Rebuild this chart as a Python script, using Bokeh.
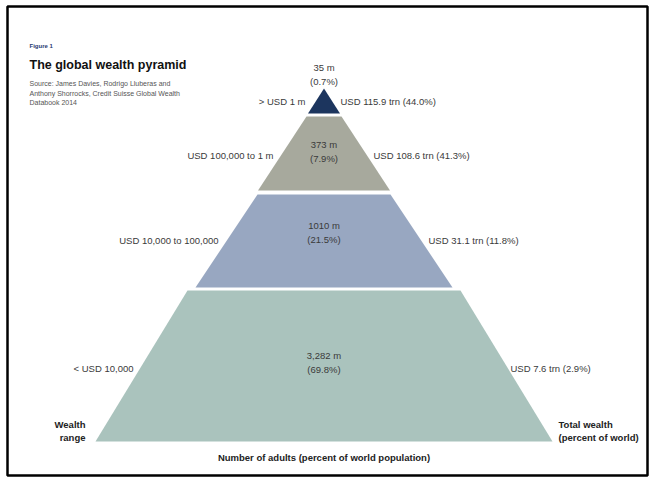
from bokeh.plotting import figure
from bokeh.models import Range1d
from bokeh.embed import file_html
from bokeh.resources import INLINE
from bokeh.core.properties import value

# ---------------- data ----------------
wealth_ranges = ["> USD 1 m", "USD 100,000 to 1 m", "USD 10,000 to 100,000", "< USD 10,000"]
adults = ["35 m", "373 m", "1010 m", "3,282 m"]
adults_pct = ["0.7%", "7.9%", "21.5%", "69.8%"]
total_wealth = ["USD 115.9 trn", "USD 108.6 trn", "USD 31.1 trn", "USD 7.6 trn"]
wealth_pct = ["44.0%", "41.3%", "11.8%", "2.9%"]
tier_colors = ["#1c355e", "#a7a99d", "#98a7c1", "#aac3bd"]

fig_label = "Figure 1"
title = "The global wealth pyramid"
source_lines = ["Source: James Davies, Rodrigo Lluberas and",
                "Anthony Shorrocks, Credit Suisse Global Wealth",
                "Databook 2014"]
left_axis_title = ["Wealth", "range"]
right_axis_title = ["Total wealth", "(percent of world)"]
bottom_title = "Number of adults (percent of world population)"

# ---------------- layout (page pixel space) ----------------
W, H = 650, 479
APEX_X = 323.5
tier_y = [(88, 113), (116, 190), (194, 287), (290, 441)]
tier_half = [(0, 16), (17.5, 66), (66.5, 128.5), (136.5, 228.5)]
inner_y = [(67, 81), (144, 158), (224.5, 239), (355, 369)]
side_y = [101, 155, 240, 368]
left_end_x = [305, 273, 218, 133]
right_start_x = [340, 373, 428, 510]

FONT = value("Liberation Sans")
TXT = "#3a3a3a"
FS = "9.5px"

p = figure(width=W, height=H, output_backend="svg", toolbar_location=None,
           x_range=Range1d(0, W), y_range=Range1d(H, 0), title=None,
           min_border=0, min_border_left=0, min_border_right=0,
           min_border_top=0, min_border_bottom=0)
p.xaxis.visible = False
p.yaxis.visible = False
p.grid.visible = False
p.outline_line_color = None
p.background_fill_color = "white"
p.border_fill_color = "white"

# frame
p.quad(left=[7], right=[647], top=[6], bottom=[475],
       fill_color=None, line_color="black", line_width=2.5)

# pyramid tiers
xs, ys = [], []
for (yt, yb), (ht, hb) in zip(tier_y, tier_half):
    xs.append([APEX_X - ht, APEX_X + ht, APEX_X + hb, APEX_X - hb])
    ys.append([yt, yt, yb, yb])
p.patches(xs, ys, fill_color=tier_colors, line_color=None)

# inner labels
p.text(x=[APEX_X] * 4, y=[a for a, b in inner_y], text=adults,
       text_font=FONT, text_font_size=FS, text_color=TXT,
       text_align="center", text_baseline="middle")
p.text(x=[APEX_X] * 4, y=[b for a, b in inner_y], text=["(" + s + ")" for s in adults_pct],
       text_font=FONT, text_font_size=FS, text_color=TXT,
       text_align="center", text_baseline="middle")

# side labels
p.text(x=left_end_x, y=side_y, text=wealth_ranges,
       text_font=FONT, text_font_size=FS, text_color=TXT,
       text_align="right", text_baseline="middle")
p.text(x=right_start_x, y=side_y,
       text=[f"{w} ({q})" for w, q in zip(total_wealth, wealth_pct)],
       text_font=FONT, text_font_size=FS, text_color=TXT,
       text_align="left", text_baseline="middle")

# header
p.text(x=[29], y=[45], text=[fig_label], text_font=FONT, text_font_size="6px",
       text_font_style="bold", text_color="#1f3a70", text_baseline="alphabetic")
p.text(x=[29], y=[64.5], text=[title], text_font=FONT, text_font_size="12.5px",
       text_font_style="bold", text_color="#111111", text_baseline="alphabetic")
p.text(x=[29] * 3, y=[83, 92.5, 102], text=source_lines, text_font=FONT,
       text_font_size="7px", text_color="#555555", text_baseline="alphabetic")

# axis-like titles
p.text(x=[85, 85], y=[424, 437], text=left_axis_title, text_font=FONT,
       text_font_size=FS, text_font_style="bold", text_color="#222222",
       text_align="right", text_baseline="middle")
p.text(x=[558, 558], y=[424, 437], text=right_axis_title, text_font=FONT,
       text_font_size=FS, text_font_style="bold", text_color="#222222",
       text_align="left", text_baseline="middle")
p.text(x=[APEX_X], y=[457], text=[bottom_title], text_font=FONT,
       text_font_size=FS, text_font_style="bold", text_color="#222222",
       text_align="center", text_baseline="middle")

open("out.html", "w").write(file_html(p, INLINE))
